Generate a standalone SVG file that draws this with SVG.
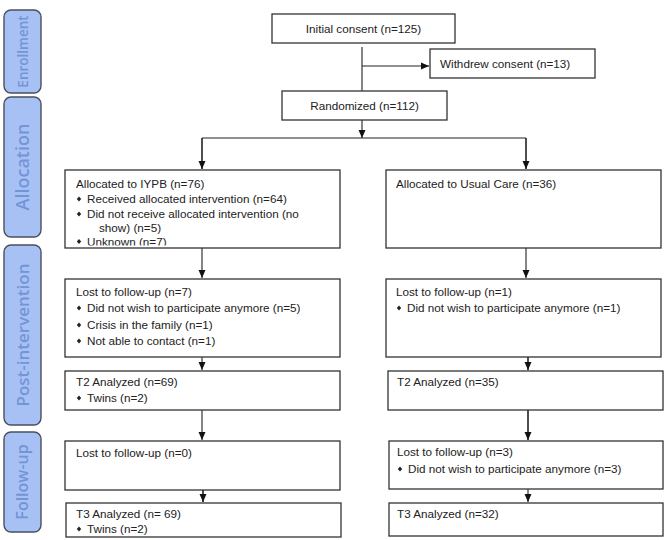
<svg xmlns="http://www.w3.org/2000/svg" xmlns:xlink="http://www.w3.org/1999/xlink" width="671" height="540" viewBox="0 0 671 540">
<style>
.tab{fill:#a8c1f5;stroke:#4a4f5c;stroke-width:1.4}
.tabt{font-family:"Open Sans","DejaVu Sans",sans-serif;font-weight:600;fill:#7395d6;text-anchor:middle}
.box{fill:#fff;stroke:#333;stroke-width:1.3}
.t{font-family:"Liberation Sans",Arial,sans-serif;font-size:11.7px;fill:#222}
.c{text-anchor:middle}
.ln{fill:none;stroke:#222;stroke-width:1.1}
.lnb{fill:none;stroke:#222;stroke-width:1.6}
</style>
<defs>
<marker id="ah" markerUnits="userSpaceOnUse" markerWidth="8" markerHeight="8" viewBox="0 0 8 8" refX="8" refY="4" orient="auto">
<path d="M0,0.5 L8,4 L0,7.5 Z" fill="#111"/>
</marker>
<path id="bul" d="M0,-2.6 L2.2,0 L0,2.6 L-2.2,0 Z" fill="#222"/>
<clipPath id="clipAlloc"><rect x="65" y="170" width="275" height="75.5"/></clipPath>
</defs>

<g id="tab-enrollment"><rect class="tab" x="4" y="10" width="37" height="83" rx="7"/><text class="tabt" font-size="13.5" transform="translate(27.5,51.5) rotate(-90)">Enrollment</text></g>
<g id="tab-allocation"><rect class="tab" x="4" y="97" width="37" height="140" rx="7"/><text class="tabt" font-size="18" transform="translate(29,167) rotate(-90)">Allocation</text></g>
<g id="tab-post"><rect class="tab" x="4" y="245" width="37" height="180" rx="7"/><text class="tabt" font-size="17" transform="translate(28.5,335) rotate(-90)">Post-intervention</text></g>
<g id="tab-followup"><rect class="tab" x="4" y="432" width="37" height="100" rx="7"/><text class="tabt" font-size="16" transform="translate(28,482) rotate(-90)">Follow-up</text></g>

<g id="connectors">
<path class="ln" d="M362,47 V91"/>
<path class="ln" d="M362,66 H429" marker-end="url(#ah)"/>
<path class="ln" d="M362,120 V138" marker-end="url(#ah)"/>
<path class="ln" d="M202,138 H526"/>
<path class="lnb" d="M202,138 V169" marker-end="url(#ah)"/>
<path class="lnb" d="M526,138 V169" marker-end="url(#ah)"/>
<path class="ln" d="M202,248 V278" marker-end="url(#ah)"/>
<path class="ln" d="M526,248 V278" marker-end="url(#ah)"/>
<path class="ln" d="M202,357 V370" marker-end="url(#ah)"/>
<path class="lnb" d="M528,357 V370" marker-end="url(#ah)"/>
<path class="ln" d="M202,410 V440" marker-end="url(#ah)"/>
<path class="lnb" d="M528,410 V440" marker-end="url(#ah)"/>
<path class="lnb" d="M203,490 V502" marker-end="url(#ah)"/>
<path class="ln" d="M528,489 V502" marker-end="url(#ah)"/>
</g>

<g id="n-initial"><rect class="box" x="272" y="14" width="183" height="29"/><text class="t c" x="363.5" y="33">Initial consent (n=125)</text></g>
<g id="n-withdrew"><rect class="box" x="430" y="49" width="165" height="29"/><text class="t" x="440" y="67.5">Withdrew consent (n=13)</text></g>
<g id="n-randomized"><rect class="box" x="282" y="91" width="165" height="29"/><text class="t c" x="364.5" y="110">Randomized (n=112)</text></g>

<g id="n-alloc-iypb"><rect class="box" x="65" y="170" width="275" height="78"/>
<g clip-path="url(#clipAlloc)">
<text class="t" x="76" y="188">Allocated to IYPB (n=76)</text>
<use xlink:href="#bul" x="79" y="199"/><text class="t" x="87" y="203">Received allocated intervention (n=64)</text>
<use xlink:href="#bul" x="79" y="214"/><text class="t" x="87" y="218">Did not receive allocated intervention (no</text>
<text class="t" x="99" y="232">show) (n=5)</text>
<use xlink:href="#bul" x="79" y="241.5"/><text class="t" x="87" y="245.5">Unknown (n=7)</text>
</g>
</g>
<g id="n-alloc-uc"><rect class="box" x="386" y="170" width="275" height="78"/><text class="t" x="396" y="188">Allocated to Usual Care (n=36)</text></g>

<g id="n-post-iypb"><rect class="box" x="65" y="279" width="275" height="78"/>
<text class="t" x="76" y="296">Lost to follow-up (n=7)</text>
<use xlink:href="#bul" x="79" y="308"/><text class="t" x="87" y="312">Did not wish to participate anymore (n=5)</text>
<use xlink:href="#bul" x="79" y="325"/><text class="t" x="87" y="329">Crisis in the family (n=1)</text>
<use xlink:href="#bul" x="79" y="341"/><text class="t" x="87" y="345">Not able to contact (n=1)</text>
</g>
<g id="n-post-uc"><rect class="box" x="386" y="279" width="275" height="78"/>
<text class="t" x="396" y="296">Lost to follow-up (n=1)</text>
<use xlink:href="#bul" x="399" y="308"/><text class="t" x="407" y="312">Did not wish to participate anymore (n=1)</text>
</g>

<g id="n-t2-iypb"><rect class="box" x="65" y="371" width="275" height="39"/>
<text class="t" x="76" y="386">T2 Analyzed  (n=69)</text>
<use xlink:href="#bul" x="79" y="398"/><text class="t" x="87" y="402">Twins (n=2)</text>
</g>
<g id="n-t2-uc"><rect class="box" x="388" y="371" width="275" height="39"/><text class="t" x="397" y="386">T2 Analyzed  (n=35)</text></g>

<g id="n-fu-iypb"><rect class="box" x="65" y="441" width="275" height="49"/><text class="t" x="76" y="457">Lost to follow-up (n=0)</text></g>
<g id="n-fu-uc"><rect class="box" x="389" y="441" width="274" height="48"/>
<text class="t" x="397" y="456">Lost to follow-up (n=3)</text>
<use xlink:href="#bul" x="400" y="469"/><text class="t" x="408" y="473">Did not wish to participate anymore (n=3)</text>
</g>

<g id="n-t3-iypb"><rect class="box" x="66" y="503" width="275" height="34"/>
<text class="t" x="76" y="518">T3 Analyzed  (n= 69)</text>
<use xlink:href="#bul" x="79" y="529"/><text class="t" x="87" y="533">Twins (n=2)</text>
</g>
<g id="n-t3-uc"><rect class="box" x="389" y="503" width="274" height="33"/><text class="t" x="397" y="518">T3 Analyzed (n=32)</text></g>
</svg>
